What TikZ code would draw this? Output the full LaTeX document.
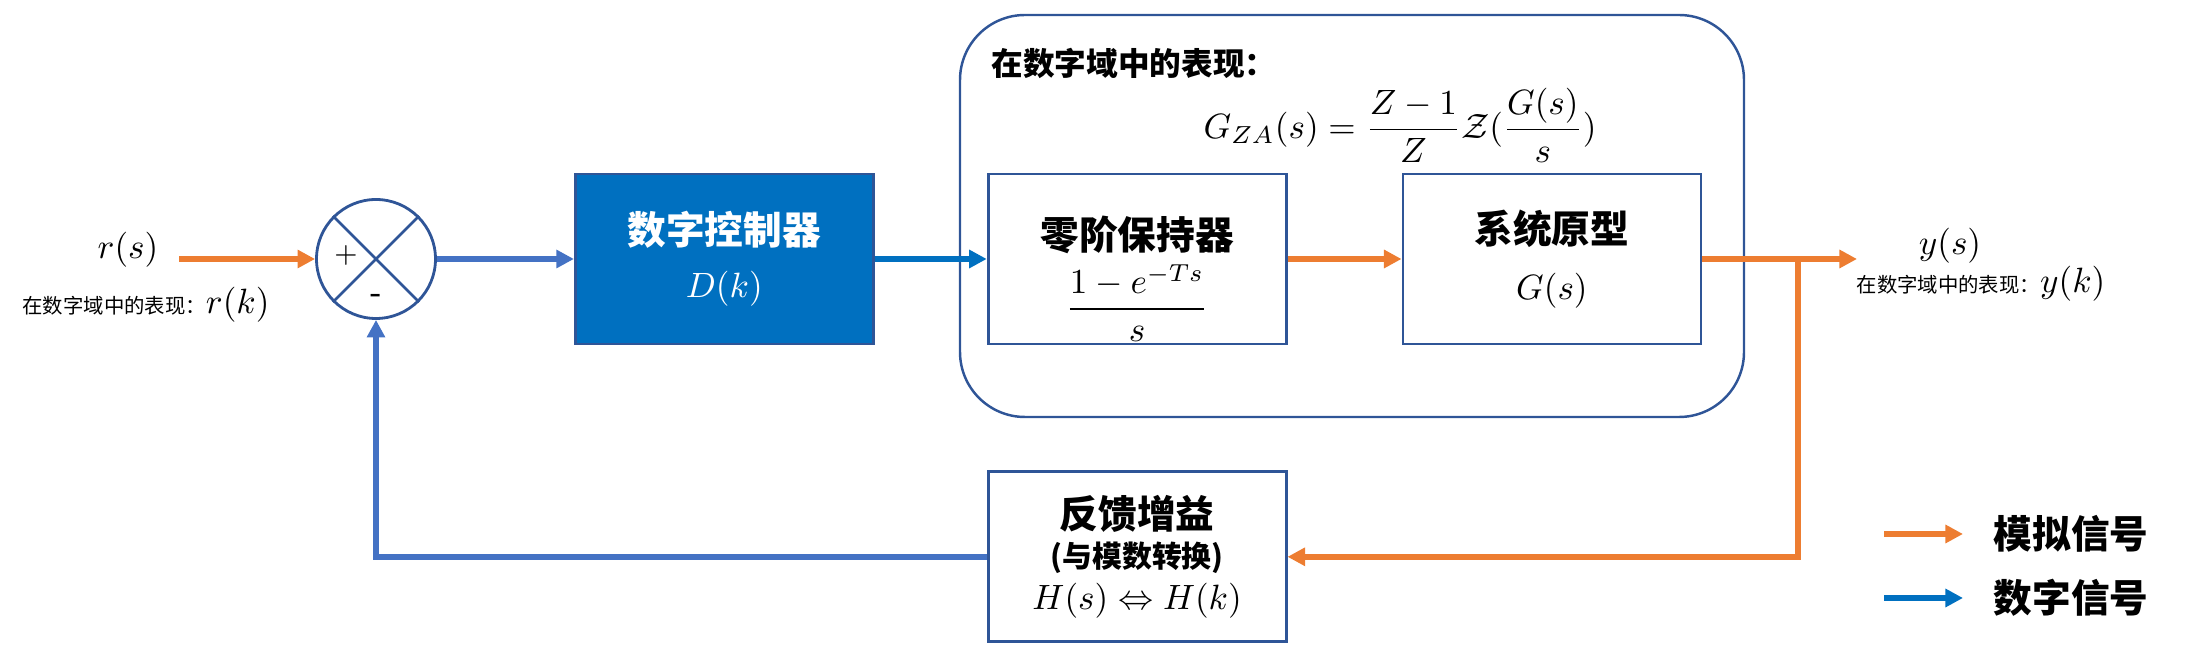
\documentclass[tikz,border=0pt]{standalone}
\usepackage{amsmath,amssymb}
\usepackage{fontspec}
\newfontfamily\cjk{Noto Sans CJK SC}
\usepackage{tikz}
\usetikzlibrary{positioning}
\usetikzlibrary{arrows.meta}
\usetikzlibrary{calc}
\definecolor{anaorange}{HTML}{ED7D31}
\definecolor{fbblue}{HTML}{4472C4}
\definecolor{digblue}{HTML}{0070C0}
\definecolor{edgeblue}{HTML}{2F5597}
\newcommand{\btitle}[1]{{\bfseries\fontsize{11}{13}\selectfont #1}}
\newcommand{\smallcjk}[1]{{\fontsize{5.8}{7}\selectfont #1}}
\tikzset{block node/.style={rectangle,draw=edgeblue,line width=0.8pt,minimum width=2.98cm,minimum height=1.70cm,inner sep=0pt,align=center,font=\cjk},
    sum node/.style={circle,draw=edgeblue,line width=0.8pt,minimum size=1.19cm,inner sep=0pt},
    ana line/.style={draw=anaorange,line width=1.7pt,-{Triangle[length=5pt,width=5pt]}},
    dig line/.style={draw=digblue,line width=1.7pt,-{Triangle[length=5pt,width=5pt]}},
    fb line/.style={draw=fbblue,line width=1.7pt,-{Triangle[length=5pt,width=5pt]}},}

\begin{document}
\begin{tikzpicture}[font=\cjk]
    \useasboundingbox (0,0) rectangle (21.93,-6.56);
    \node[sum node] (sum) at (3.76,-2.59) {};
    \node[block node,fill=digblue,text=white] (dk) [right = 1.37cm of sum] {\btitle{数字控制器}\\[3pt] $D(k)$};
    \node[block node] (zoh) [right = 1.12cm of dk] {};
    \node (zohtitle) at ([yshift=0.24cm]zoh.center) {\btitle{零阶保持器}};
    \node (zohtf) at ([yshift=-0.44cm]zoh.center) {$\dfrac{1-e^{-Ts}}{s}$};
    \node[block node] (sys) [right = 1.14cm of zoh] {\btitle{系统原型}\\[4pt] $G(s)$};
    \node[block node] (hk) [below = 1.25cm of zoh] {\btitle{反馈增益}\\[-1pt] {\bfseries\fontsize{8.5}{10}\selectfont (与模数转换)}\\[0pt] $H(s)\Leftrightarrow H(k)$};

    \draw[edgeblue,line width=0.8pt] (sum.45) -- (sum.225) (sum.135) -- (sum.315);
    \node (plus) at ([xshift=-0.30cm,yshift=0.04cm]sum.center) {\fontsize{8}{9}\selectfont $+$};
    \node (minus) at ([yshift=-0.41cm]sum.center) {-};

    \draw[edgeblue,line width=0.7pt,rounded corners=0.65cm] (9.60,-0.15) rectangle (17.44,-4.17);
    \node[anchor=west,inner sep=0pt] (dtitle) at (9.91,-0.63) {\bfseries\fontsize{9}{11}\selectfont 在数字域中的表现：};
    \node (gza) at (14.00,-1.25) {$G_{ZA}(s)=\dfrac{Z-1}{Z}\mathcal{Z}(\dfrac{G(s)}{s})$};

    \node (rs) at (1.28,-2.50) {$r(s)$};
    \node (rk) at (1.46,-3.05) {\smallcjk{在数字域中的表现：}$r(k)$};
    \node (ys) at (19.50,-2.46) {$y(s)$};
    \node (yk) at (19.81,-2.84) {\smallcjk{在数字域中的表现：}$y(k)$};

    \coordinate (rin) at (1.79,-2.59);
    \coordinate (br) at (17.98,-2.59);
    \coordinate (yout) at (18.57,-2.59);

    \path[ana line] (rin) -- (sum);
    \path[fb line] (sum) -- (dk);
    \path[dig line] (dk) -- (zoh);
    \path[ana line] (zoh) -- (sys);
    \path[ana line] (sys) -- (yout);
    \path[ana line] (br) |- (hk);
    \path[fb line] (hk) -| (sum);

    \node[anchor=west,inner sep=0pt] (ana) at (19.93,-5.34) {\bfseries\fontsize{11}{13}\selectfont 模拟信号};
    \node[anchor=west,inner sep=0pt] (dig) at (19.93,-5.98) {\bfseries\fontsize{11}{13}\selectfont 数字信号};
    \coordinate (la) at (18.84,-5.34);
    \coordinate (lb) at (18.84,-5.98);
    \path[ana line,shorten >=0.3cm] (la) -- (ana.west);
    \path[dig line,shorten >=0.3cm] (lb) -- (dig.west);
\end{tikzpicture}
\end{document}
